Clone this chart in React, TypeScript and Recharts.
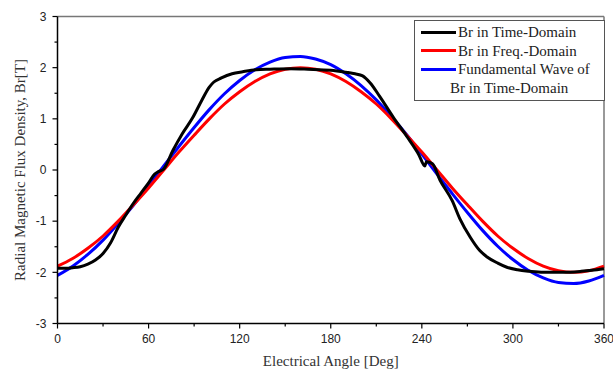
import React from "react";
import { LineChart, Line, XAxis, YAxis, ReferenceLine } from "recharts";

// angles in degrees, Br in Tesla
const sineAngles = [0, 10, 20, 30, 40, 50, 60, 70, 80, 90, 100, 110, 120, 130, 140, 150, 160, 170, 180,
  190, 200, 210, 220, 230, 240, 250, 260, 270, 280, 290, 300, 310, 320, 330, 340, 350, 360];

const freqDomain = [-1.88, -1.73, -1.53, -1.29, -1.0, -0.68, -0.35, 0.0, 0.35, 0.68, 1.0, 1.29, 1.53, 1.73,
  1.88, 1.97, 2.0, 1.97, 1.88, 1.73, 1.53, 1.29, 1.0, 0.68, 0.35, 0.0, -0.35, -0.68, -1.0, -1.29, -1.53,
  -1.73, -1.88, -1.97, -2.0, -1.97, -1.88];

const fundamental = [-2.06, -1.88, -1.65, -1.37, -1.04, -0.69, -0.31, 0.08, 0.46, 0.83, 1.18, 1.49, 1.75,
  1.96, 2.11, 2.2, 2.22, 2.17, 2.06, 1.88, 1.65, 1.37, 1.04, 0.69, 0.31, -0.08, -0.46, -0.83, -1.18, -1.49,
  -1.75, -1.96, -2.11, -2.2, -2.22, -2.17, -2.06];

const timeAngles = [0, 5, 10, 15, 20, 25, 30, 35, 40, 45, 50, 55, 60, 64, 66, 70, 76, 82, 89, 95, 100, 103,
  108, 115, 122, 131, 140, 153, 165, 180, 190, 196, 201, 206, 212, 221, 230, 238, 242, 243, 247, 252, 260,
  265, 272, 278, 283, 290, 296, 303, 311, 320, 333, 345, 352, 360];

const timeDomain = [-1.92, -1.92, -1.91, -1.89, -1.84, -1.76, -1.63, -1.42, -1.12, -0.88, -0.65, -0.45,
  -0.25, -0.08, -0.04, 0.02, 0.38, 0.7, 1.02, 1.36, 1.62, 1.72, 1.8, 1.88, 1.92, 1.96, 1.97, 1.98, 1.97,
  1.95, 1.91, 1.88, 1.84, 1.7, 1.45, 1.04, 0.66, 0.3, 0.08, 0.16, 0.12, -0.2, -0.6, -0.95, -1.32, -1.57,
  -1.7, -1.82, -1.9, -1.95, -1.98, -2.0, -2.0, -1.98, -1.96, -1.93];

const xTicks = [0, 30, 60, 90, 120, 150, 180, 210, 240, 270, 300, 330, 360];
const yTicks = [-3, -2.5, -2, -1.5, -1, -0.5, 0, 0.5, 1, 1.5, 2, 2.5, 3];

const legendItems = [
  { label: "Br in Time-Domain", color: "#000000" },
  { label: "Br in Freq.-Domain", color: "#ff0000" },
  { label: "Fundamental Wave of", color: "#0000ff" },
];

const freqData = sineAngles.map((a, i) => ({ angle: a, br: freqDomain[i] }));
const fundData = sineAngles.map((a, i) => ({ angle: a, br: fundamental[i] }));
const timeData = timeAngles.map((a, i) => ({ angle: a, br: timeDomain[i] }));

const tickFont = "'Liberation Sans', Arial, sans-serif";
const serif = "'Liberation Serif', 'Times New Roman', serif";

function XTick(props: any) {
  const { x, y, payload } = props;
  const major = payload.value % 60 === 0;
  return (
    <g>
      <line x1={x} x2={x} y1={y} y2={y + (major ? 5 : 3)} stroke="#000" strokeWidth={1.2} />
      {major && (
        <text x={x} y={y + 19.5} textAnchor="middle" fontSize={12} fontFamily={tickFont} fill="#222">
          {payload.value}
        </text>
      )}
    </g>
  );
}

function YTick(props: any) {
  const { x, y, payload } = props;
  const major = Number.isInteger(payload.value);
  return (
    <g>
      <line x1={x} x2={x - (major ? 5 : 3)} y1={y} y2={y} stroke="#000" strokeWidth={1.2} />
      {major && (
        <text x={x - 11} y={y + 4.3} textAnchor="end" fontSize={12} fontFamily={tickFont} fill="#222">
          {payload.value}
        </text>
      )}
    </g>
  );
}

function LegendBox() {
  return (
    <div
      style={{
        position: "absolute",
        left: 414,
        top: 20,
        border: "1px solid #555",
        background: "#fff",
        width: 189,
        padding: "2px 0 3px 0",
        fontFamily: serif,
        fontSize: 15,
        color: "#222",
        lineHeight: "18.5px",
      }}
    >
      {legendItems.map((it) => (
        <div key={it.label} style={{ display: "flex", alignItems: "center" }}>
          <span style={{ display: "inline-block", width: 35, height: 3, background: it.color, marginLeft: 6, marginRight: 2 }} />
          <span>{it.label}</span>
        </div>
      ))}
      <div style={{ paddingLeft: 35 }}>Br in Time-Domain</div>
    </div>
  );
}

export default function App() {
  return (
    <div style={{ position: "absolute", left: 0, top: 0, width: 613, height: 369, background: "#fff" }}>
      <LineChart width={613} height={369} margin={{ top: 16.5, right: 9, left: 0, bottom: 0 }}>
        <XAxis
          dataKey="angle"
          type="number"
          domain={[0, 360]}
          ticks={xTicks}
          interval={0}
          tickSize={0}
          tickMargin={0}
          tick={<XTick />}
          stroke="#000"
          strokeWidth={1.5}
          height={45.5}
          allowDuplicatedCategory={false}
          label={{
            value: "Electrical Angle [Deg]",
            position: "insideBottom",
            offset: 3,
            style: { fontFamily: serif, fontSize: 15, fill: "#333" },
          }}
        />
        <YAxis
          type="number"
          domain={[-3, 3]}
          ticks={yTicks}
          interval={0}
          tickSize={0}
          tickMargin={0}
          tick={<YTick />}
          stroke="#000"
          strokeWidth={1.5}
          width={57.5}
          label={{
            value: "Radial Magnetic Flux Density, Br[T]",
            angle: -90,
            position: "center",
            dx: -9.5,
            style: { fontFamily: serif, fontSize: 15, fill: "#333", textAnchor: "middle" },
          }}
        />
        <ReferenceLine y={3} stroke="#777" strokeWidth={1.5} />
        <ReferenceLine x={360} stroke="#777" strokeWidth={1.5} />
        <Line data={fundData} dataKey="br" type="monotone" stroke="#0000ff" strokeWidth={3} dot={false} isAnimationActive={false} />
        <Line data={freqData} dataKey="br" type="monotone" stroke="#ff0000" strokeWidth={3} dot={false} isAnimationActive={false} />
        <Line data={timeData} dataKey="br" type="monotone" stroke="#000000" strokeWidth={3} dot={false} isAnimationActive={false} />
      </LineChart>
      <LegendBox />
    </div>
  );
}
